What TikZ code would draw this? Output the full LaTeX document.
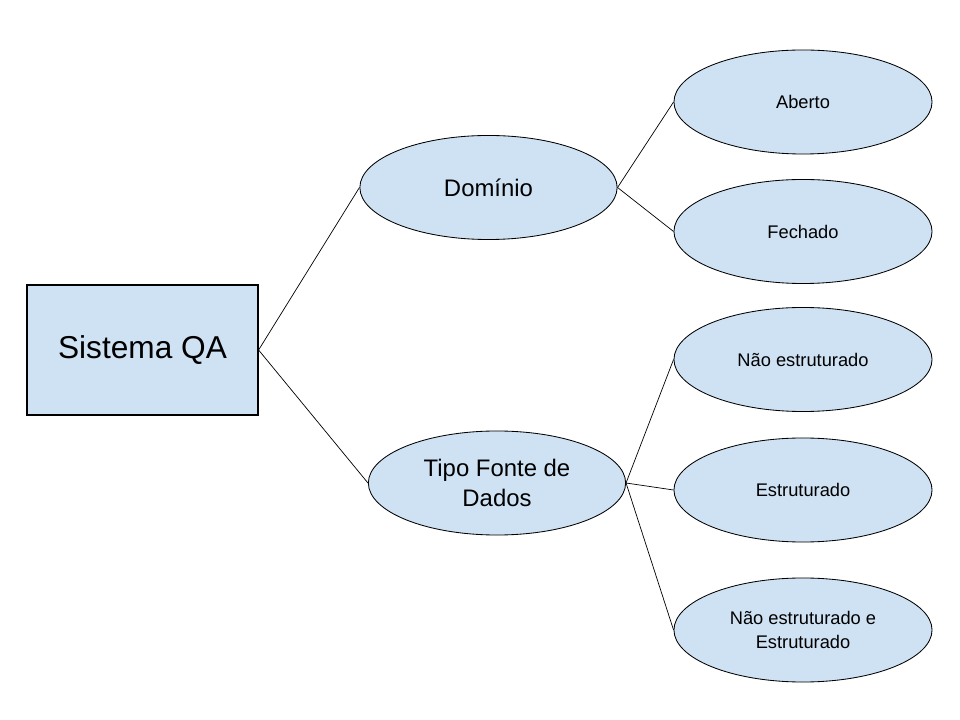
\documentclass[tikz,border=0pt]{standalone}
\usepackage{fontspec}
\setmainfont{Liberation Sans}
\usetikzlibrary{shapes.geometric}
\definecolor{qablue}{HTML}{CFE2F3}
\tikzset{%
	box/.style      = {draw, line width=0.8pt, rectangle, fill=qablue, inner sep=0pt,
		minimum width = 5.775cm, minimum height = 3.25cm, font=\fontsize{22.5}{27}\selectfont},
	topic/.style    = {draw, line width=0.6pt, ellipse, fill=qablue, inner sep=0pt, align=center,
		minimum width = 6.43cm, minimum height = 2.6cm, font=\fontsize{17}{21}\selectfont},
	leaf/.style     = {draw, line width=0.6pt, ellipse, fill=qablue, inner sep=0pt, align=center,
		minimum width = 6.45cm, minimum height = 2.6cm, font=\fontsize{13}{17}\selectfont},
	link/.style     = {line width=0.5pt}
}
\begin{document}
\begin{tikzpicture}[x=0.025cm,y=-0.025cm]
			\useasboundingbox (0,0) rectangle (960,720);
			\node[box]      (qa)      at (142.5,350) {Sistema QA};
			\node[topic]    (dominio) at (488.5,187.5) {Domínio};
			\node[topic]    (fonte)   at (497,483) {Tipo Fonte de\\Dados};
			\node[leaf]     (aberto)  at (803,102) {Aberto};
			\node[leaf]     (fechado) at (803,231.5) {Fechado};
			\node[leaf]     (naoestr) at (803,359.5) {Não estruturado};
			\node[leaf]     (estr)    at (803,490) {Estruturado};
			\node[leaf]     (ambos)   at (803,630) {Não estruturado e\\Estruturado};

			\draw[link]   (qa.east) -- (dominio.west);
			\draw[link]   (qa.east) -- (fonte.west);
			\draw[link]   (dominio.east) -- (aberto.west);
			\draw[link]   (dominio.east) -- (fechado.west);
			\draw[link]   (fonte.east) -- (naoestr.west);
			\draw[link]   (fonte.east) -- (estr.west);
			\draw[link]   (fonte.east) -- (ambos.west);
		\end{tikzpicture}
\end{document}
